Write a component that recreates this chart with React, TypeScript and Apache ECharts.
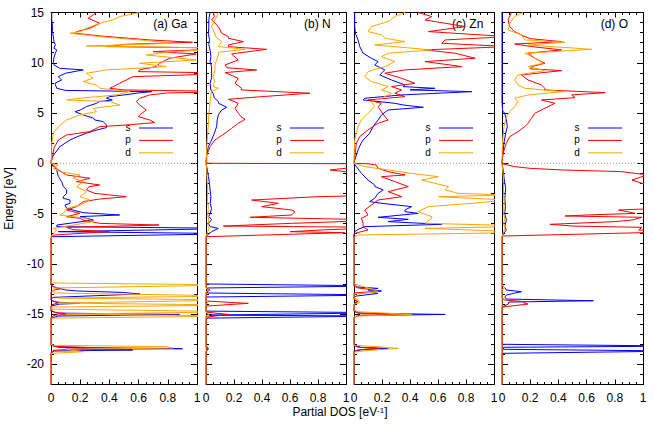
import React, { useEffect, useRef } from 'react';
import * as echarts from 'echarts';

type Pt = [number, number]; // [energy (eV), partial DOS (1/eV)]

// ---------- (a) Ga ----------
const gaS: Pt[] = [[-22,0],[-18.9,0],[-18.67,0.02],[-18.57,0.56],[-18.5,0.1],[-18.44,0.9],[-18.3,0.05],[-18.1,0],
[-15.4,0],[-15.19,0.05],[-15.03,0.88],[-14.9,0.05],[-14.7,0],
[-14.2,0],[-14.0,0.06],[-13.93,0.2],[-13.8,0.03],[-13.6,0],
[-13.45,0],[-13.33,0.02],[-13.0,0.61],[-12.84,0.49],[-12.7,0.18],[-12.6,0.1],[-12.3,0.02],[-12.1,0],
[-7.5,0],[-7.3,0.005],[-7.0,1.3],[-6.8,0.05],[-6.47,1.3],[-6.3,0.04],[-6.14,0.04],[-5.64,0.29],[-5.3,0.2],[-5.14,0.47],[-4.91,0.22],[-4.48,0.107],[-4.15,0.096],[-3.98,0.13],[-3.65,0.13],[-3.48,0.084],[-3.32,0.084],[-2.99,0.107],[-2.65,0.107],[-2.3,0.084],[-1.82,0.073],[-1.3,0.05],[-0.66,0.039],[-0.33,0.016],[0,0],
[0.17,0],[0.66,0.01],[1.0,0.027],[1.66,0.061],[2.32,0.13],[2.65,0.18],[2.99,0.243],[3.3,0.31],[3.55,0.38],[3.81,0.38],[4.15,0.357],[4.31,0.3],[4.5,0.29],[4.81,0.221],[5.14,0.164],[5.3,0.2],[5.64,0.243],[5.97,0.312],[6.14,0.33],[6.3,0.42],[6.47,0.38],[6.63,0.4],[6.8,0.5],[7.0,0.6],[7.13,0.69],[7.25,0.1],[7.46,0.04],[7.8,0.03],[7.96,0.027],[8.29,0.073],[8.46,0.06],[8.62,0.05],[8.96,0.1],[9.29,0.221],[9.45,0.06],[9.8,0.02],[10.05,0.016],[10.5,0.02],[10.95,0.03],[11.28,0.039],[11.44,0.02],[11.8,0.03],[12.1,0.02],[12.6,0.016],[13.1,0.01],[13.6,0.01],[14.3,0.005],[15,0.005]];

const gaP: Pt[] = [[-22,0],[-18.8,0],[-18.6,0.02],[-18.34,0.31],[-18.2,0.02],[-18.0,0],
[-15.3,0],[-15.1,0.03],[-15.0,0.15],[-14.85,0.03],[-14.6,0],
[-14.2,0],[-14.0,0.02],[-13.86,0.06],[-13.7,0.01],[-13.5,0],
[-12.8,0],[-12.6,0.02],[-12.5,0.06],[-12.3,0.02],[-12.1,0],
[-7.4,0],[-7.13,0.02],[-6.8,0.4],[-6.6,0.15],[-6.37,0.107],[-6.14,0.74],[-5.97,0.334],[-5.64,0.221],[-5.47,0.2],[-5.31,0.107],[-4.98,0.198],[-4.64,0.107],[-4.31,0.175],[-3.81,0.221],[-3.55,0.334],[-3.32,0.516],[-3.15,0.403],[-2.99,0.3],[-2.65,0.243],[-2.32,0.26],[-2.16,0.334],[-1.82,0.175],[-1.49,0.266],[-1.16,0.107],[-0.66,0.05],[-0.17,0.016],[0,0],
[0.07,0],[0.66,0.01],[1.49,0.02],[2.32,0.05],[2.82,0.107],[3.15,0.266],[3.65,0.334],[3.81,0.516],[4.05,0.71],[4.31,0.676],[4.64,0.6],[4.81,0.607],[5.31,0.653],[5.8,0.607],[6.14,0.585],[6.47,0.607],[6.8,0.676],[7.0,0.8],[7.13,1.3],[7.3,0.5],[7.46,0.403],[7.96,0.471],[8.29,0.516],[8.62,0.562],[8.96,1.3],[9.12,0.6],[9.29,0.607],[9.62,0.72],[9.95,0.744],[10.45,0.812],[10.88,0.994],[11.11,0.699],[11.44,1.3],[11.61,0.38],[11.84,0.516],[12.04,0.97],[12.27,0.676],[12.67,0.334],[12.94,0.164],[13.1,0.175],[13.43,0.266],[13.93,0.334],[14.43,0.255],[15,0.312]];

const gaD: Pt[] = [[-22,0],[-18.9,0],[-18.74,0.221],[-18.5,0.1],[-18.37,0.835],[-18.24,0.79],[-18.1,0.02],[-18.0,0],
[-15.4,0],[-15.19,1.3],[-15.0,0.1],[-14.76,1.3],[-14.5,0],
[-14.3,0],[-14.1,1.3],[-13.9,0.05],[-13.6,1.3],[-13.4,0.05],[-13.2,1.3],[-12.9,0.02],[-12.4,0.02],[-12.1,1.3],[-11.9,0],
[-7.3,0],[-6.97,0.016],[-6.63,0.039],[-6.47,0.016],[-6.14,0.152],[-5.8,0.289],[-5.47,0.243],[-5.14,0.06],[-4.98,0.084],[-4.64,0.1],[-4.48,0.107],[-4.15,0.198],[-3.65,0.266],[-3.32,0.198],[-2.82,0.243],[-2.32,0.175],[-1.82,0.221],[-1.49,0.152],[-1.16,0.198],[-0.83,0.061],[-0.5,0.016],[-0.17,0.05],[0,0],
[0.1,0],[1.0,0.005],[1.99,0.005],[2.99,0.016],[3.65,0.05],[4.31,0.107],[4.81,0.198],[5.14,0.312],[5.47,0.289],[5.8,0.471],[6.14,0.403],[6.3,0.107],[6.47,0.198],[6.8,0.448],[7.13,0.539],[7.46,0.334],[7.79,0.312],[8.13,0.221],[8.46,0.289],[8.96,0.243],[9.29,0.38],[9.62,0.79],[9.95,0.607],[10.28,0.994],[10.78,0.653],[11.11,0.835],[11.44,1.3],[11.67,0.243],[11.94,0.835],[12.27,0.607],[12.6,0.334],[12.94,0.13],[13.1,0.2],[13.43,0.243],[13.93,0.334],[14.26,0.425],[14.6,0.471],[15,0.607]];

// ---------- (b) N ----------
const nS: Pt[] = [[-22,0],[-18.7,0],[-18.5,0.01],[-18.41,0.017],[-18.3,0.01],[-18.1,0],
[-15.4,0],[-15.19,1.3],[-15.1,0.02],[-14.86,1.3],[-14.7,0],
[-13.3,0],[-13.1,1.3],[-12.9,0.01],[-12.4,0.01],[-12.2,1.3],[-12.0,0],
[-7.3,0],[-7.0,0.02],[-6.8,0.04],[-6.47,0.088],[-6.3,0.03],[-6.0,0.017],[-5.6,0.04],[-5.3,0.02],[-4.98,0.03],[-4.5,0.04],[-4,0.03],[-3.3,0.035],[-2.65,0.029],[-2,0.025],[-1.3,0.017],[-0.66,0.01],[0,0],
[0.2,0],[0.83,0.005],[1.66,0.017],[2.32,0.04],[3.0,0.06],[3.65,0.076],[4.31,0.08],[4.81,0.088],[5.31,0.112],[5.57,0.148],[5.97,0.09],[6.14,0.088],[6.5,0.06],[6.97,0.05],[7.3,0.035],[7.96,0.029],[8.5,0.04],[8.96,0.04],[9.62,0.04],[10.1,0.029],[10.6,0.035],[11.28,0.029],[11.8,0.02],[12.3,0.025],[12.9,0.017],[13.6,0.02],[14.3,0.02],[15,0.029]];

const nP: Pt[] = [[-22,0],[-18.7,0],[-18.5,0.017],[-18.3,0],
[-15.3,0],[-15.03,0.16],[-14.8,0],
[-14.2,0],[-13.93,0.302],[-13.7,0],
[-12.8,0],[-12.6,0.029],[-12.4,0],
[-7.5,0],[-7.3,0.005],[-6.9,0.993],[-6.8,0.6],[-6.63,0.826],[-6.37,1.3],[-6.24,0.124],[-5.97,0.612],[-5.64,1.3],[-5.37,0.314],[-5.14,0.612],[-4.81,0.636],[-4.64,0.612],[-4.31,0.398],[-3.98,0.517],[-3.65,0.326],[-3.32,0.8],[-3.15,1.3],[-2,1.3],[-1.0,1.3],[-0.83,0.993],[-0.66,0.886],[-0.5,0.993],[-0.3,1.3],[-0.05,1.3],[0,0],
[0.07,0.005],[0.83,0.005],[1.66,0.03],[2.32,0.064],[2.99,0.136],[3.48,0.183],[3.98,0.231],[4.38,0.279],[4.64,0.25],[4.98,0.231],[5.47,0.207],[5.97,0.231],[6.37,0.16],[6.63,0.398],[6.97,0.743],[7.3,0.25],[7.46,0.255],[7.96,0.207],[8.46,0.231],[9.02,0.136],[9.29,0.362],[9.5,0.15],[9.78,0.136],[10.28,0.231],[10.88,0.183],[11.34,0.433],[11.6,0.16],[11.77,0.16],[12.1,0.267],[12.44,0.16],[12.6,0.16],[12.94,0.112],[13.6,0.088],[14.26,0.04],[14.6,0.06],[15,0.052]];

const nD: Pt[] = [[-22,0],[-15.2,0],[-15.03,0.02],[-14.8,0],[-14.0,0],[-13.86,0.017],[-13.7,0],[-12.8,0],[-12.6,0.017],[-12.4,0],
[-7.3,0],[-6.9,0.01],[-6.47,0.021],[-6.14,0.012],[-5.64,0.02],[-5.14,0.012],[-4.5,0.017],[-3.5,0.01],[-2.5,0.012],[-1.5,0.007],[-0.5,0.005],[0,0],
[0.5,0.002],[1.5,0.005],[2.99,0.012],[4.0,0.017],[4.98,0.021],[5.97,0.029],[6.3,0.029],[6.8,0.035],[7.13,0.04],[7.46,0.088],[7.63,0.05],[8.13,0.064],[8.62,0.052],[9.29,0.064],[9.78,0.064],[10.28,0.076],[10.78,0.088],[11.05,0.09],[11.34,0.279],[11.61,0.088],[12.1,0.112],[12.6,0.07],[13.27,0.052],[13.6,0.04],[14.26,0.064],[15,0.088]];

// ---------- (c) Zn ----------
const znS: Pt[] = [[-22,0],[-18.7,0],[-18.55,0.05],[-18.41,0.244],[-18.3,0.05],[-18.1,0],
[-15.3,0],[-15.15,0.03],[-15.03,0.651],[-14.9,0.03],[-14.7,0],
[-14.0,0],[-13.76,0.017],[-13.5,0],
[-13.3,0],[-13.2,0.017],[-12.94,0.172],[-12.84,0.12],[-12.7,0.196],[-12.6,0.1],[-12.44,0.172],[-12.3,0.02],[-12.1,0],
[-7.1,0],[-6.8,0.005],[-6.57,0.029],[-6.3,0.077],[-6.07,0.627],[-5.8,0.244],[-5.57,0.388],[-5.37,0.172],[-4.98,0.459],[-4.81,0.364],[-4.64,0.364],[-4.31,0.411],[-3.98,0.2],[-3.81,0.112],[-3.48,0.148],[-2.99,0.172],[-2.65,0.208],[-2.32,0.15],[-2.16,0.148],[-1.66,0.1],[-1.0,0.053],[-0.33,0.017],[0,0],
[0.3,0.005],[1.33,0.029],[1.99,0.05],[2.32,0.065],[2.99,0.112],[3.65,0.136],[4.31,0.172],[4.81,0.196],[5.31,0.244],[5.57,0.495],[5.8,0.35],[5.97,0.292],[6.3,0.065],[6.47,0.077],[6.8,0.34],[7.13,0.842],[7.3,0.4],[7.46,0.579],[7.63,0.35],[7.79,0.364],[8.29,0.268],[8.79,0.184],[9.29,0.22],[9.78,0.148],[10.12,0.172],[10.45,0.124],[10.95,0.065],[11.61,0.041],[12.27,0.029],[12.94,0.01],[13.6,0.005],[15,0.005]];

const znP: Pt[] = [[-22,0],[-18.7,0],[-18.55,0.03],[-18.41,0.172],[-18.3,0.03],[-18.1,0],
[-15.3,0],[-15.1,0.05],[-15.03,0.34],[-14.9,0.05],[-14.7,0],
[-14.0,0],[-13.76,0.029],[-13.5,0],
[-12.9,0],[-12.77,0.124],[-12.6,0.148],[-12.4,0.03],[-12.2,0],
[-7.2,0],[-6.97,0.005],[-6.63,0.1],[-6.3,0.065],[-5.97,0.065],[-5.47,0.053],[-5.14,0.1],[-4.64,0.077],[-4.15,0.124],[-3.65,0.172],[-3.32,0.34],[-2.82,0.244],[-2.32,0.388],[-1.82,0.292],[-1.33,0.196],[-1.16,0.364],[-0.83,0.244],[-0.5,0.172],[-0.17,0.16],[-0.05,0.1],[0,0],
[0.2,0.002],[1.99,0.017],[2.65,0.041],[3.32,0.1],[3.98,0.172],[4.31,0.244],[4.64,0.22],[5.14,0.196],[5.64,0.172],[5.97,0.196],[6.3,0.1],[6.63,0.364],[6.97,0.292],[7.3,0.34],[7.63,0.268],[7.96,0.435],[8.46,0.34],[8.96,0.22],[9.29,0.364],[9.62,0.77],[10.12,0.507],[10.45,0.866],[10.95,0.722],[11.28,0.507],[11.61,1.1],[11.94,0.627],[12.27,0.651],[12.6,1.1],[13.1,0.531],[13.6,0.794],[13.93,0.651],[14.26,0.507],[14.6,0.555],[15,0.459]];

const znD: Pt[] = [[-22,0],[-18.8,0],[-18.64,0.077],[-18.41,0.316],[-18.24,0.172],[-18.1,0],
[-15.3,0],[-15.19,0.029],[-15.03,0.411],[-14.76,0.029],[-14.6,0],
[-14.0,0],[-13.86,0.041],[-13.6,0.029],[-13.4,0],
[-13.0,0],[-12.94,0.077],[-12.77,0.172],[-12.5,0.124],[-12.2,0.053],[-12.0,0],
[-7.4,0],[-7.3,0.005],[-7.13,0.029],[-6.87,1.3],[-6.47,0.507],[-6.24,1.3],[-5.97,0.507],[-5.47,0.555],[-5.31,0.555],[-4.81,0.459],[-4.31,0.531],[-3.98,0.842],[-3.65,1.1],[-3.32,0.603],[-3.15,1.1],[-2.99,0.746],[-2.65,0.651],[-2.32,0.675],[-1.99,0.579],[-1.66,0.483],[-1.33,0.603],[-1.0,0.411],[-0.66,0.244],[-0.33,0.077],[0,0],
[0.2,0],[2.32,0.005],[3.65,0.029],[4.31,0.053],[4.98,0.1],[5.64,0.148],[6.14,0.124],[6.47,0.196],[6.97,0.268],[7.3,0.196],[7.63,0.244],[8.13,0.124],[8.62,0.077],[9.12,0.1],[9.62,0.22],[9.95,0.268],[10.12,0.292],[10.61,0.196],[10.95,0.244],[11.28,0.555],[11.77,0.148],[12.1,0.364],[12.44,0.22],[12.77,0.196],[13.1,0.1],[13.6,0.124],[14.1,0.244],[14.6,0.292],[15,0.364]];

// ---------- (d) O ----------
const oS: Pt[] = [[-22,0],[-18.9,0],[-18.67,1.3],[-18.5,0.01],[-18.3,0.01],[-18.18,1.3],[-18.0,0],
[-14.3,0],[-14.0,0.043],[-13.8,0.05],[-13.67,0.648],[-13.5,0.03],[-13.3,0.02],[-13.1,0.031],[-12.94,0.08],[-12.77,0.138],[-12.6,0.03],[-12.34,0.019],[-12.1,0],
[-7.3,0],[-7.0,0.01],[-6.63,0.031],[-6.3,0.02],[-5.64,0.031],[-4.98,0.019],[-4.3,0.025],[-3.5,0.02],[-2.5,0.026],[-1.5,0.015],[-0.8,0.01],[0,0],
[0.2,0],[1.0,0.007],[2.0,0.014],[2.99,0.026],[3.65,0.038],[4.31,0.031],[4.98,0.019],[5.2,0.005],[6,0],[15,0]];

const oP: Pt[] = [[-22,0],[-14.3,0],[-14.0,0.185],[-13.86,0.15],[-13.76,0.162],[-13.6,0.02],[-13.4,0],
[-7.4,0],[-7.23,0.005],[-6.9,0.993],[-6.8,1.3],[-6.63,0.969],[-6.37,0.993],[-6.24,0.5],[-6.07,0.34],[-5.8,0.8],[-5.64,0.922],[-5.37,0.993],[-5.24,0.447],[-5.14,0.6],[-4.98,0.945],[-4.64,0.827],[-4.4,1.3],[-2.2,1.3],[-1.99,0.993],[-1.66,0.922],[-1.33,0.993],[-1.16,1.05],[-1.0,0.945],[-0.83,0.85],[-0.66,0.423],[-0.5,0.2],[-0.33,0.09],[-0.1,0.02],[0,0],
[0.2,0.002],[1.0,0.007],[2.0,0.031],[2.65,0.055],[3.15,0.114],[3.65,0.162],[3.98,0.185],[4.48,0.209],[4.98,0.233],[5.47,0.304],[5.97,0.375],[6.3,0.28],[6.53,0.518],[6.8,0.494],[7.03,0.732],[7.3,0.3],[7.46,0.304],[7.79,0.28],[8.29,0.185],[8.79,0.138],[9.22,0.423],[9.4,0.2],[9.62,0.209],[9.95,0.304],[10.45,0.233],[10.95,0.185],[11.28,0.423],[11.61,0.209],[11.87,0.09],[12.1,0.423],[12.4,0.2],[12.6,0.162],[13.1,0.09],[13.6,0.055],[14.26,0.043],[15,0.067]];

const oD: Pt[] = [[-22,0],[-12.6,0],[-12.34,0.019],[-12.1,0],
[-7.3,0],[-7.0,0.007],[-6.5,0.02],[-6.0,0.012],[-5.5,0.02],[-5.0,0.012],[-4.0,0.015],[-3.0,0.012],[-2.0,0.01],[-1.0,0.007],[0,0],
[0.5,0],[2.32,0.005],[3.65,0.014],[4.64,0.031],[5.14,0.055],[5.64,0.09],[6.14,0.114],[6.47,0.09],[6.8,0.185],[7.13,0.435],[7.46,0.162],[7.79,0.114],[8.29,0.09],[8.79,0.114],[9.22,0.304],[9.62,0.185],[9.95,0.292],[10.45,0.233],[10.95,0.162],[11.34,0.637],[11.77,0.185],[12.04,0.447],[12.27,0.162],[12.77,0.138],[13.27,0.043],[13.93,0.055],[14.6,0.09],[15,0.15]];

const panelLabels = ['(a) Ga', '(b) N', '(c) Zn', '(d) O'];
const orbitalNames = ['s', 'p', 'd'];
const panelData: Pt[][][] = [
  [gaS, gaP, gaD],
  [nS, nP, nD],
  [znS, znP, znD],
  [oS, oP, oD],
];
const yMajorTicks = [-20, -15, -10, -5, 0, 5, 10, 15];
const yMin = -22;
const yMax = 15;
const xMin = 0;
const xMax = 1;

// layout (pixels)
const layout = [
  { left: 51, width: 146, legendGap: 24 },
  { left: 206, width: 140, legendGap: 22 },
  { left: 354, width: 140, legendGap: 21 },
  { left: 502, width: 141, legendGap: 21 },
];
const TOP = 12.5;
const HEIGHT = 372;
const colors = ['#0000ff', '#ff0000', '#ffa500'];
const FONT_FAMILY = '"Liberation Sans", Arial, Helvetica, sans-serif';
const FONT = '12px ' + FONT_FAMILY;
const LEGEND_FONT = '10px ' + FONT_FAMILY;

function buildOption() {
  const grid: any[] = [];
  const xAxis: any[] = [];
  const yAxis: any[] = [];
  const series: any[] = [];
  const graphic: any[] = [];

  const black = { color: '#000', width: 1 };

  layout.forEach((l, i) => {
    grid.push({ left: l.left, top: TOP, width: l.width, height: HEIGHT, containLabel: false, outerBoundsMode: 'none' });

    const xBase = {
      type: 'value', gridIndex: i, min: xMin, max: xMax, interval: 0.2,
      axisLine: { show: true, onZero: false, lineStyle: black },
      axisTick: { show: true, inside: true, length: 5, lineStyle: black },
      minorTick: { show: true, splitNumber: 4, length: 2.5, lineStyle: black },
      splitLine: { show: false }, minorSplitLine: { show: false },
    };
    xAxis.push({ ...xBase, position: 'bottom',
      axisLabel: { show: true, margin: 7, color: '#000', fontSize: 12, fontFamily: FONT_FAMILY,
        formatter: (v: number) => String(Math.round(v * 10) / 10) } });
    xAxis.push({ ...xBase, position: 'top', axisLabel: { show: false } });

    const yMinor = {
      type: 'value', gridIndex: i, min: yMin, max: yMax, interval: 1,
      axisLine: { show: true, onZero: false, lineStyle: black },
      axisTick: { show: true, inside: true, length: 3, lineStyle: black },
      axisLabel: { show: false }, splitLine: { show: false },
    };
    const yMajor = {
      type: 'value', gridIndex: i, min: yMin, max: yMax,
      axisLine: { show: false, onZero: false },
      axisTick: { show: true, inside: true, length: 6, lineStyle: black, customValues: yMajorTicks },
      splitLine: { show: false },
    };
    yAxis.push({ ...yMinor, position: 'left' });
    yAxis.push({ ...yMajor, position: 'left',
      axisLabel: { show: i === 0, customValues: yMajorTicks, margin: 7, color: '#000', fontSize: 12, fontFamily: FONT_FAMILY } });
    yAxis.push({ ...yMinor, position: 'right' });
    yAxis.push({ ...yMajor, position: 'right', axisLabel: { show: false } });

    // zero (Fermi level) dotted line
    series.push({
      type: 'line', xAxisIndex: 2 * i, yAxisIndex: 4 * i, data: [[0, 0], [1, 0]],
      symbol: 'none', silent: true, animation: false,
      lineStyle: { color: '#9a9a9a', width: 1, type: [1, 2] },
    });

    panelData[i].forEach((arr, k) => {
      series.push({
        type: 'line', name: orbitalNames[k], xAxisIndex: 2 * i, yAxisIndex: 4 * i,
        data: arr.map(([e, d]) => [d, e]),
        symbol: 'none', showSymbol: false, clip: true, animation: false, silent: true,
        lineStyle: { color: colors[k], width: 1 },
      });
    });

    // panel label
    graphic.push({
      type: 'text', x: l.left + 0.7 * l.width, y: 24, silent: true,
      style: { text: panelLabels[i], font: FONT, fill: '#000', align: 'left', verticalAlign: 'middle', textAlign: 'left', textVerticalAlign: 'middle' },
    });
    // legend
    const lineEnd = l.left + l.width - l.legendGap;
    const lineStart = lineEnd - 34;
    orbitalNames.forEach((nm, k) => {
      const y = 128 + k * 12.4;
      graphic.push({
        type: 'line', silent: true,
        shape: { x1: lineStart, y1: y, x2: lineEnd, y2: y },
        style: { stroke: colors[k], lineWidth: 1 },
      });
      graphic.push({
        type: 'text', x: lineStart - 11, y: y - 0.5, silent: true,
        style: { text: nm, font: LEGEND_FONT, lineHeight: 10, fill: '#000', align: 'center', verticalAlign: 'middle', textAlign: 'center', textVerticalAlign: 'middle' },
      });
    });
  });

  graphic.push({
    type: 'text', x: 9, y: 198.5, rotation: Math.PI / 2, silent: true,
    style: { text: 'Energy [eV]', font: FONT, fill: '#000', align: 'center', verticalAlign: 'middle', textAlign: 'center', textVerticalAlign: 'middle' },
  });
  graphic.push({
    type: 'text', x: 340, y: 412, silent: true,
    style: {
      text: 'Partial DOS [eV{sup|-1}]', font: FONT, fill: '#000',
      align: 'center', verticalAlign: 'middle', textAlign: 'center', textVerticalAlign: 'middle',
      rich: { sup: { fontSize: 8, lineHeight: 8, fontFamily: FONT_FAMILY, fill: '#000', verticalAlign: 'top' } },
    },
  });

  return {
    animation: false,
    backgroundColor: '#fff',
    grid, xAxis, yAxis, series, graphic,
  };
}

export default function App() {
  const ref = useRef<HTMLDivElement>(null);
  useEffect(() => {
    document.body.style.margin = '0';
    if (!ref.current) return;
    const chart = echarts.init(ref.current, null, { renderer: 'svg' });
    chart.setOption(buildOption() as any);
    return () => chart.dispose();
  }, []);
  return <div ref={ref} style={{ width: 654, height: 433 }} />;
}
